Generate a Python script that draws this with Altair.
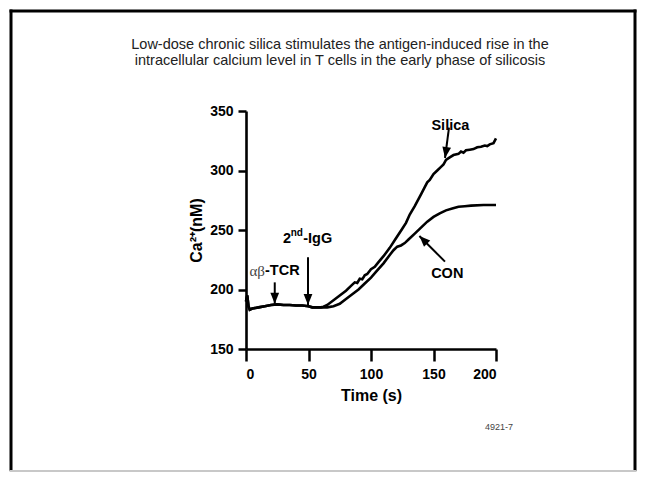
import altair as alt
import pandas as pd

# ---- data ----
base_time = [0, 1, 2, 3, 5, 10, 15, 20, 25, 30, 35, 40, 45, 50, 53, 56, 60]
base_ca = [190, 195, 186, 183, 184, 185, 186, 187, 187.5, 187, 187, 186.5, 186.5, 186, 185, 185, 185]

silica_time = [62, 65, 70, 75, 80, 84, 87, 89, 91, 93, 95, 97, 100, 103, 106, 110, 115, 120, 125,
               128, 131, 135, 140, 143, 145, 147, 150, 153, 156, 158, 160, 163, 166, 170, 172, 174,
               176, 179, 182, 185, 188, 191, 193, 195, 198, 200]
silica_ca = [185.5, 187, 191, 195, 199, 203, 206, 205.5, 209, 208.5, 212, 213, 217, 219, 223, 228, 235,
             243, 251, 256, 263, 270, 280, 286, 290, 292, 297, 300, 303, 305, 309, 311, 313, 314, 316,
             315, 317, 317.5, 318, 319.5, 320, 321, 320.5, 322, 323, 327]

con_time = [62, 65, 70, 75, 80, 85, 90, 95, 100, 105, 110, 115, 118, 121, 124, 127, 130, 135, 140,
            145, 150, 155, 160, 165, 170, 175, 180, 190, 200]
con_ca = [185, 185, 186, 188, 192, 196, 200, 205, 210, 216, 222, 229, 233, 236, 237, 239, 242, 247,
          252, 257, 261, 264, 266.5, 268, 269.5, 270, 270.5, 271, 271]

# arrows: start (x, y) -> tip (x2, y2), with head angle (degrees, 0 = pointing up)
arrow_name = ["TCR", "IgG", "Silica", "CON"]
arrow_x = [23, 49.6, 162.4, 159.2]
arrow_y = [206, 227, 336, 223.4]
arrow_x2 = [23, 49.6, 159.2, 138.7]
arrow_y2 = [188, 187, 310.5, 245]
arrow_angle = [180, 180, 189, 315]

label_text = ["Silica", "CON"]
label_x = [163.5, 161]
label_y = [337.5, 213]

title_lines = "Low-dose chronic silica stimulates the antigen-induced rise in the\nintracellular calcium level in T cells in the early phase of silicosis"

FONT = "Liberation Sans, Arial"

rows = []
for t, c in zip(base_time, base_ca):
    rows.append({"t": t, "ca": c, "s": "Silica"})
    rows.append({"t": t, "ca": c, "s": "CON"})
for t, c in zip(silica_time, silica_ca):
    rows.append({"t": t, "ca": c, "s": "Silica"})
for t, c in zip(con_time, con_ca):
    rows.append({"t": t, "ca": c, "s": "CON"})
curves = pd.DataFrame(rows)
curves["o"] = curves["t"]

arrows = pd.DataFrame({"name": arrow_name, "x": arrow_x, "y": arrow_y,
                       "x2": arrow_x2, "y2": arrow_y2, "angle": arrow_angle})
labels = pd.DataFrame({"text": label_text, "x": label_x, "y": label_y})

xs = alt.Scale(domain=[0, 200], nice=False)
ys = alt.Scale(domain=[150, 350], nice=False)

lines = alt.Chart(curves).mark_line(color="black", strokeWidth=2.6, interpolate="linear").encode(
    x=alt.X("t:Q", scale=xs,
            axis=alt.Axis(title="Time (s)", values=[0, 50, 100, 150, 200], tickSize=12,
                          tickWidth=2.5, domainWidth=2.6, labelPadding=6, titlePadding=6,
                          grid=False)),
    y=alt.Y("ca:Q", scale=ys,
            axis=alt.Axis(title="Ca²⁺(nM)", values=[150, 175, 200, 225, 250, 275, 300, 325, 350],
                          labelExpr="datum.value % 50 == 0 ? datum.label : ''",
                          tickSize=8, tickWidth=2.5, domainWidth=2.6, labelPadding=5,
                          titlePadding=5, grid=False)),
    detail="s:N",
    order="o:Q",
)

shafts = alt.Chart(arrows).mark_rule(color="black", strokeWidth=2).encode(
    x="x:Q", y="y:Q", x2="x2:Q", y2="y2:Q")

heads = alt.Chart(arrows).mark_point(
    shape="M0,0L0.4,1L-0.4,1Z", filled=True, color="black", opacity=1, size=480, strokeWidth=0
).encode(x="x2:Q", y="y2:Q", angle=alt.Angle("angle:Q", scale=None))

txt = alt.Chart(labels).mark_text(
    font=FONT, fontWeight="bold", fontSize=14.5, color="black", align="center", baseline="middle"
).encode(x="x:Q", y="y:Q", text="text:N")

# annotation labels made of pieces in different weights / sizes
pieces_text = ["αβ", "-TCR", "2", "nd", "-IgG"]
pieces_x = [15.2, 15.2, 29.6, 35.8, 45.8]
pieces_y = [215.5, 215.5, 242.4, 247.5, 242.4]
pieces_size = [15, 14.5, 14.5, 10, 14.5]
pieces_weight = ["normal", "bold", "bold", "bold", "bold"]
pieces_align = ["right", "left", "left", "left", "left"]
pieces_font = ["Liberation Serif, serif", FONT, FONT, FONT, FONT]
pieces_color = ["#444", "black", "black", "black", "black"]

piece_layers = []
for t, x, y, s, w, a, f, c in zip(pieces_text, pieces_x, pieces_y, pieces_size, pieces_weight,
                                  pieces_align, pieces_font, pieces_color):
    piece_layers.append(
        alt.Chart(pd.DataFrame({"x": [x], "y": [y], "t": [t]})).mark_text(
            font=f, fontWeight=w, fontSize=s, color=c, align=a, baseline="middle"
        ).encode(x="x:Q", y="y:Q", text="t:N")
    )

title = alt.Chart(pd.DataFrame({"t": [title_lines]})).mark_text(
    font="Liberation Sans, Arial", fontSize=14.5, color="#222", align="center", baseline="alphabetic",
    lineBreak="\n", lineHeight=16
).encode(x=alt.value(94), y=alt.value(-62), text="t:N")

code = alt.Chart(pd.DataFrame({"t": ["4921-7"]})).mark_text(
    font=FONT, fontSize=9, color="#444", align="center", baseline="middle"
).encode(x=alt.value(253), y=alt.value(316), text="t:N")

# page frame: black top / left / right, light grey bottom
one = pd.DataFrame({"k": [0]})
frame_top = alt.Chart(one).mark_rule(color="black", strokeWidth=3).encode(
    x=alt.value(-236.5), x2=alt.value(390.5), y=alt.value(-100))
frame_left = alt.Chart(one).mark_rule(color="black", strokeWidth=3).encode(
    x=alt.value(-235), y=alt.value(-101.5), y2=alt.value(360))
frame_right = alt.Chart(one).mark_rule(color="black", strokeWidth=3).encode(
    x=alt.value(389), y=alt.value(-101.5), y2=alt.value(360))
frame_bottom = alt.Chart(one).mark_rule(color="#c8c8c8", strokeWidth=2).encode(
    x=alt.value(-236.5), x2=alt.value(390.5), y=alt.value(360))

chart = alt.layer(frame_top, frame_left, frame_right, frame_bottom, title, code, lines, shafts,
                  heads, txt, *piece_layers).properties(
    width=250, height=238,
    autosize=alt.AutoSizeParams(type="none"),
    padding={"left": 238, "top": 103, "right": 141, "bottom": 124},
    background="white",
).configure_view(stroke=None, clip=False).configure_axis(
    domainColor="black", tickColor="black", labelColor="black", titleColor="black",
    labelFont=FONT, titleFont=FONT, labelFontWeight="bold", titleFontWeight="bold",
    labelFontSize=14, titleFontSize=16,
)

chart.save("out.html", embed_options={"renderer": "svg", "actions": False})
